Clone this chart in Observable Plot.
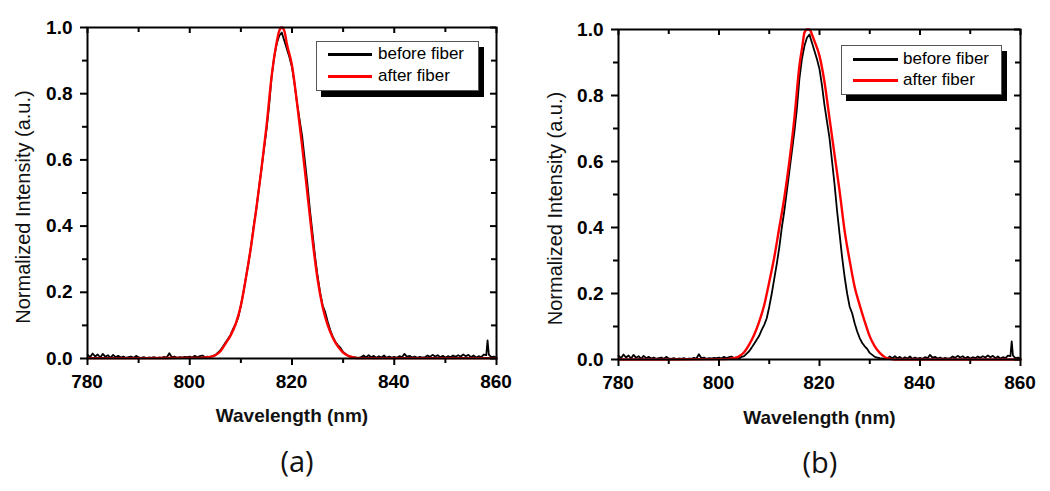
<!DOCTYPE html>
<html>
<head>
<meta charset="utf-8">
<script src="https://cdn.jsdelivr.net/npm/d3@7"></script>
<script src="https://cdn.jsdelivr.net/npm/@observablehq/plot@0.6"></script>
<style>
  body { margin: 0; background: #fff; }
  #wrap { position: relative; width: 1050px; height: 491px; background: #fff; overflow: hidden; font-family: "Liberation Sans", Arial, sans-serif; }
  .panel { position: absolute; top: 0; }
  .legend { position: absolute; background: #fff; border: 1px solid #555; box-shadow: 5px 6px 0 #000; }
  .legend .item { position: absolute; left: 0; height: 20px; font-size: 17px; line-height: 20px; color: #000; white-space: nowrap; }
  .legend .swatch { position: absolute; height: 3px; }
  .caption { position: absolute; font-family: "Open Sans", "Noto Sans", sans-serif; font-size: 29px; color: #111; transform: translateX(-50%); }
  .xtick { position: absolute; z-index: 5; font-family: "Liberation Sans", Arial, sans-serif; font-weight: bold; font-size: 19px; line-height: 19px; color: #000; transform: translate(-50%, -50%); white-space: nowrap; }
</style>
</head>
<body>
<div id="wrap"></div>
<script>
// ---------------- data ----------------
const xDomain = [780, 860];
const yDomain = [0, 1];
const xMajorTicks = [780, 800, 820, 840, 860];
const xMinorTicks = [790, 810, 830, 850];
const yMajorTicks = [0, 0.2, 0.4, 0.6, 0.8, 1.0];
const yMinorTicks = [0.1, 0.3, 0.5, 0.7, 0.9];
const xLabel = "Wavelength (nm)";
const yLabel = "Normalized Intensity (a.u.)";
const seriesNames = ["before fiber", "after fiber"];
const panelNames = ["(a)", "(b)"];

// before fiber (same measured spectrum in both panels)
const beforeFiber = [
  [780,0.012],[780.5,0.004],[781,0.015],[781.5,0.006],[782,0.012],[782.5,0.003],[783,0.014],[783.5,0.005],
  [784,0.010],[784.5,0.002],[785,0.011],[785.5,0.004],[786,0.008],[786.5,0.003],[787,0.006],[787.5,0.002],
  [788,0.004],[788.5,0.006],[789,0.002],[789.5,0.008],[790,0.003],[790.5,0.002],[791,0.004],[791.5,0.001],
  [792,0.003],[792.5,0.002],[793,0.004],[793.5,0.001],[794,0.003],[794.5,0.002],[795,0.005],[795.5,0.003],
  [796,0.016],[796.5,0.004],[797,0.006],[797.5,0.002],[798,0.004],[798.5,0.003],[799,0.005],[799.5,0.004],
  [800,0.006],[800.5,0.003],[801,0.008],[801.5,0.004],[802,0.007],[802.5,0.009],
  [803,0.004],[803.5,0.006],[804,0.003],[804.5,0.008],[805,0.010],[805.5,0.018],[806,0.025],[806.5,0.036],
  [807,0.048],[807.5,0.060],[808,0.072],[808.5,0.090],[809,0.105],[809.5,0.125],[810,0.160],[810.5,0.200],
  [811,0.245],[811.5,0.290],[812,0.340],[812.5,0.400],[813,0.450],[813.5,0.510],[814,0.570],[814.5,0.630],
  [815,0.690],[815.5,0.760],[816,0.850],[816.5,0.910],[817,0.950],[817.5,0.975],[818,0.985],[818.3,0.970],
  [818.5,0.960],[819,0.935],[819.5,0.910],[820,0.880],[820.5,0.830],[821,0.770],[821.5,0.720],[822,0.670],
  [822.5,0.600],[823,0.530],[823.5,0.450],[824,0.380],[824.5,0.310],[825,0.250],[825.5,0.200],[826,0.160],
  [826.5,0.140],[827,0.110],[827.5,0.085],[828,0.065],[828.5,0.050],[829,0.040],[829.5,0.032],[830,0.020],
  [830.5,0.014],[831,0.008],[831.5,0.006],[832,0.004],[833,0.002],
  [833.5,0.004],[834,0.009],[834.5,0.003],[835,0.010],[835.5,0.004],[836,0.008],[836.5,0.002],[837,0.007],
  [837.5,0.003],[838,0.009],[838.5,0.002],[839,0.006],[839.5,0.003],[840,0.005],[840.5,0.002],[841,0.007],
  [841.5,0.004],[842,0.014],[842.5,0.005],[843,0.008],[843.5,0.003],[844,0.006],[844.5,0.002],[845,0.005],
  [845.5,0.003],[846,0.004],[846.5,0.009],[847,0.005],[847.5,0.011],[848,0.006],[848.5,0.010],[849,0.004],
  [849.5,0.008],[850,0.003],[850.5,0.007],[851,0.004],[851.5,0.009],[852,0.005],[852.5,0.010],[853,0.006],
  [853.5,0.012],[854,0.007],[854.5,0.011],[855,0.004],[855.5,0.009],[856,0.003],[856.5,0.007],[857,0.004],
  [857.5,0.012],[858,0.010],[858.25,0.055],[858.5,0.012],[859,0.004],[859.5,0.006],[860,0.003]
];

// after fiber, panel (a)
const afterFiberA = [
  [780,0.001],[790,0.001],[800,0.002],[802,0.002],[803,0.003],[804,0.005],[805,0.010],[806,0.022],
  [807,0.045],[808,0.070],[809,0.105],[810,0.160],[811,0.245],[812,0.340],[813,0.450],[814,0.570],
  [815,0.700],[816,0.850],[817,0.955],[817.5,0.990],[818,1.0],[818.5,0.990],[819,0.950],[820,0.885],
  [821,0.770],[822,0.640],[823,0.500],[824,0.360],[825,0.240],[826,0.155],[827,0.100],[828,0.062],
  [829,0.036],[830,0.018],[831,0.008],[832,0.003],[833,0.001],[840,0.001],[850,0.001],[860,0.001]
];

// after fiber, panel (b)
const afterFiberB = [
  [780,0.0],[790,0.0],[800,0.001],[802,0.002],[803,0.004],[804,0.010],[805,0.022],[806,0.045],
  [807,0.075],[808,0.115],[809,0.165],[810,0.235],[811,0.310],[812,0.400],[813,0.490],[814,0.600],
  [815,0.730],[816,0.890],[816.6,0.950],[817,0.990],[817.5,1.0],[818,1.0],[818.5,0.985],[819,0.965],
  [820,0.920],[821,0.840],[822,0.730],[823,0.620],[824,0.510],[825,0.390],[826,0.300],[827,0.220],
  [828,0.165],[829,0.115],[830,0.070],[831,0.040],[832,0.020],[833,0.007],[834,0.002],[835,0.0],
  [845,0.0],[860,0.0]
];

// ---------------- drawing ----------------
const wrap = document.getElementById("wrap");
const FONT = "'Liberation Sans', Arial, sans-serif";

function panel(cfg, after) {
  const fw = cfg.width - cfg.ml - cfg.mr;
  const fh = cfg.height - cfg.mt - cfg.mb;
  const chart = Plot.plot({
    width: cfg.width,
    height: cfg.height,
    marginLeft: cfg.ml, marginRight: cfg.mr, marginTop: cfg.mt, marginBottom: cfg.mb,
    style: { fontFamily: FONT, fontSize: "19px", color: "#000", background: "transparent", overflow: "visible" },
    x: { domain: xDomain, axis: null },
    y: { domain: yDomain, axis: null },
    marks: [
      // curves
      Plot.line(beforeFiber, { x: d => d[0], y: d => d[1], stroke: "#000", strokeWidth: 1.8 }),
      Plot.line(after, { x: d => d[0], y: d => d[1], stroke: "#ff0000", strokeWidth: 2.4, curve: "monotone-x" }),
      // bottom: outward ticks
      Plot.tickX(xMajorTicks, { x: d => d, insetTop: fh, insetBottom: -7, strokeWidth: 2, stroke: "#000" }),
      Plot.tickX(xMinorTicks, { x: d => d, insetTop: fh, insetBottom: -5, strokeWidth: 2, stroke: "#000" }),
      // top: inward ticks
      Plot.tickX(xMajorTicks, { x: d => d, insetBottom: fh - 6, strokeWidth: 2, stroke: "#000" }),
      Plot.tickX(xMinorTicks, { x: d => d, insetBottom: fh - 5, strokeWidth: 2, stroke: "#000" }),
      // left: outward ticks
      Plot.tickY(yMajorTicks, { y: d => d, insetRight: fw, insetLeft: -7, strokeWidth: 2, stroke: "#000" }),
      Plot.tickY(yMinorTicks, { y: d => d, insetRight: fw, insetLeft: -5, strokeWidth: 2, stroke: "#000" }),
      // right: inward ticks
      Plot.tickY(yMajorTicks, { y: d => d, insetLeft: fw - 6, strokeWidth: 2, stroke: "#000" }),
      Plot.tickY(yMinorTicks, { y: d => d, insetLeft: fw - 5, strokeWidth: 2, stroke: "#000" }),
      Plot.frame({ stroke: "#000", strokeWidth: 2 }),
      // y tick labels
      Plot.text(yMajorTicks, { y: d => d, text: d => d3.format(".1f")(d), frameAnchor: "left", dx: -15, lineAnchor: "middle", textAnchor: "end", fontSize: 19, fontWeight: "bold", fill: "#000" }),
      // axis titles
      Plot.text([xLabel], { text: d => d, frameAnchor: "bottom", dy: cfg.xTitleDy, lineAnchor: "middle", textAnchor: "middle", fontSize: 19, fontWeight: "bold", fill: "#111" }),
      Plot.text([yLabel], { text: d => d, frameAnchor: "left", dx: cfg.yTitleDx, dy: cfg.yTitleDy, rotate: -90, lineAnchor: "middle", textAnchor: "middle", fontSize: 20, fontWeight: "normal", fill: "#111" })
    ]
  });
  const div = document.createElement("div");
  div.className = "panel";
  div.style.left = cfg.left + "px";
  div.appendChild(chart);
  wrap.appendChild(div);

  // x tick labels, positioned with the chart's own x scale
  const xs = chart.scale("x");
  const baseY = cfg.mt + fh + cfg.xTickDy;
  xMajorTicks.forEach(v => {
    const t = document.createElement("div");
    t.className = "xtick";
    t.textContent = String(v);
    t.style.left = (cfg.left + xs.apply(v)) + "px";
    t.style.top = baseY + "px";
    wrap.appendChild(t);
  });
}

function legend(L) {
  const box = document.createElement("div");
  box.className = "legend";
  box.style.left = L.left + "px";
  box.style.top = L.top + "px";
  box.style.width = L.w + "px";
  box.style.height = L.h + "px";
  const colors = ["#000", "#ff0000"];
  seriesNames.forEach((name, i) => {
    const cy = L.rows[i] - L.top - 1;
    const sw = document.createElement("div");
    sw.className = "swatch";
    sw.style.left = (L.lineX0 - L.left - 1) + "px";
    sw.style.width = (L.lineX1 - L.lineX0) + "px";
    sw.style.top = (cy - 1.5) + "px";
    sw.style.background = colors[i];
    box.appendChild(sw);
    const lab = document.createElement("div");
    lab.className = "item";
    lab.style.left = (L.textX - L.left - 1) + "px";
    lab.style.top = (cy - 10) + "px";
    lab.textContent = name;
    box.appendChild(lab);
  });
  wrap.appendChild(box);
}

function caption(text, cx, cy) {
  const c = document.createElement("div");
  c.className = "caption";
  c.textContent = text;
  c.style.left = cx + "px";
  c.style.top = (cy - 21) + "px";
  wrap.appendChild(c);
}

panel({ left: 0, width: 520, height: 440, ml: 87, mr: 24, mt: 27, mb: 82, xTickDy: 23, xTitleDy: 57, yTitleDx: -64, yTitleDy: 14 }, afterFiberA);
panel({ left: 520, width: 530, height: 440, ml: 98, mr: 30, mt: 29, mb: 81, xTickDy: 23, xTitleDy: 58, yTitleDx: -63, yTitleDy: 14 }, afterFiberB);

legend({ left: 316, top: 41, w: 161, h: 48, lineX0: 328, lineX1: 372, textX: 378, rows: [54, 76] });
legend({ left: 841, top: 45, w: 159, h: 48, lineX0: 853, lineX1: 898, textX: 903, rows: [59, 80] });

caption(panelNames[0], 297, 462);
caption(panelNames[1], 820, 463);
</script>
</body>
</html>
